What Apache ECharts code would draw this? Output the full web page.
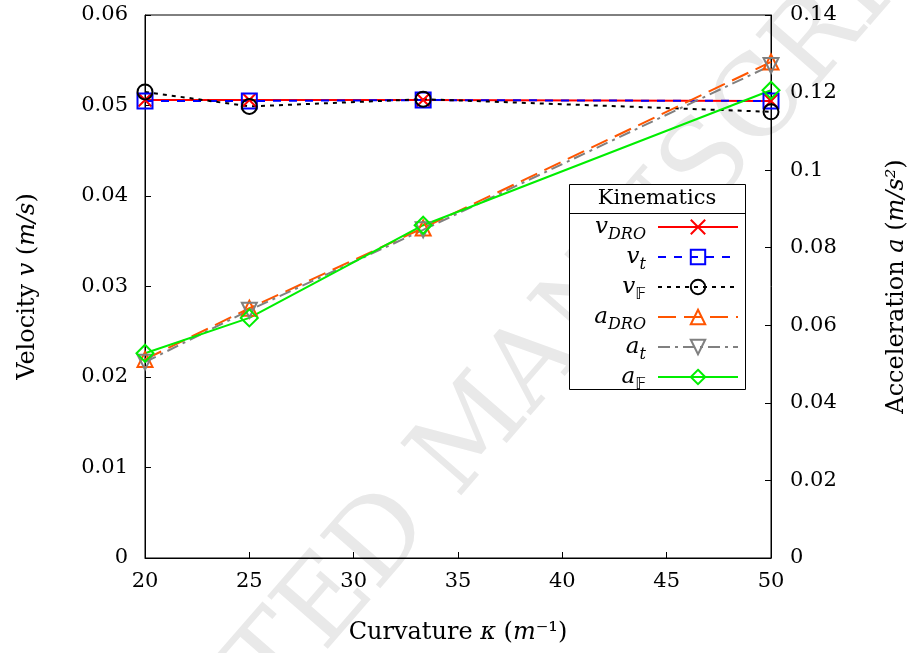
<!DOCTYPE html>
<html>
<head>
<meta charset="utf-8">
<script src="https://cdn.jsdelivr.net/npm/echarts@6/dist/echarts.min.js"></script>
<style>html,body{margin:0;padding:0;background:#fff}#c{width:912px;height:653px}</style>
</head>
<body>
<div id="c"></div>
<script>
const kappa = [20, 25, 33.33, 50];
const vDRO = [0.0506, 0.0506, 0.0506, 0.0505];
const vT   = [0.0505, 0.0505, 0.0506, 0.0505];
const vF   = [0.0515, 0.0499, 0.0507, 0.0493];
const aDRO = [0.0512, 0.0644, 0.0851, 0.1279];
const aT   = [0.0505, 0.0639, 0.0846, 0.1270];
const aF   = [0.0528, 0.0619, 0.0858, 0.1206];
const xTicks = [20, 25, 30, 35, 40, 45, 50];
const seriesNames = ['vDRO', 'vt', 'vF', 'aDRO', 'at', 'aF'];
const legendMain = ['v', 'v', 'v', 'a', 'a', 'a'];
const legendSub = ['DRO', 't', '𝔽', 'DRO', 't', '𝔽'];

const FONT = 'DejaVu Serif';
const pts = arr => kappa.map((k, i) => [k, arr[i]]);

// measure label widths so that labels can be right-aligned against the icons
const LABEL_W = 70;
const MAIN_FONT = 'italic 23px "DejaVu Serif"';
const SUB_FONT = 'italic 16px "DejaVu Serif"';
const SUBR_FONT = '16px "DejaVu Sans"';
const ctx = document.createElement('canvas').getContext('2d');
function tw(font, s) { ctx.font = font; return ctx.measureText(s).width; }

const legendRich = {
  i: {fontFamily: FONT, fontStyle: 'italic', fontSize: 23, color: '#000', lineHeight: 22, verticalAlign: 'top'},
  sub: {fontFamily: FONT, fontStyle: 'italic', fontSize: 16, color: '#000', lineHeight: 16, padding: [11, 0, 0, 0], verticalAlign: 'top'},
  subr: {fontFamily: 'DejaVu Sans', fontSize: 16, color: '#000', lineHeight: 16, padding: [11, 0, 0, 0], verticalAlign: 'top'},
  g: {width: 7, lineHeight: 22, verticalAlign: 'top'}
};
const legendLabels = {};
seriesNames.forEach((n, k) => {
  const isR = legendSub[k] === '𝔽';
  const w = tw(MAIN_FONT, legendMain[k]) + tw(isR ? SUBR_FONT : SUB_FONT, legendSub[k]);
  legendRich['sp' + k] = {width: Math.max(0, LABEL_W - w), lineHeight: 22, verticalAlign: 'top'};
  legendLabels[n] = '{sp' + k + '|}{i|' + legendMain[k] + '}{' + (isR ? 'subr' : 'sub') + '|' + legendSub[k] + '}{g|}';
});

const chart = echarts.init(document.getElementById('c'));
const lbl = {fontFamily: FONT, fontSize: 21, color: '#000'};
const nameStyle = {fontFamily: FONT, fontSize: 24, color: '#000',
  rich: {i: {fontFamily: FONT, fontStyle: 'italic', fontSize: 24, color: '#000'}}};

function mk(name, data, yIdx, color, lineType, symbol, size) {
  return {
    name, type: 'line', yAxisIndex: yIdx, data: pts(data),
    symbol, symbolSize: size, clip: false,
    showAllSymbol: true,
    lineStyle: {color, width: 2, type: lineType},
    itemStyle: {color: 'none', borderColor: color, borderWidth: 2},
    emphasis: {disabled: true},
    animation: false
  };
}

chart.setOption({
  animation: false,
  grid: {left: 145, right: 141, top: 15, bottom: 95, show: true, borderColor: '#000', borderWidth: 1,
         containLabel: false, outerBoundsMode: 'none'},
  xAxis: {
    type: 'value', min: 20, max: 50, interval: 5,
    axisLine: {lineStyle: {color: '#000'}},
    axisTick: {inside: true, length: 6, lineStyle: {color: '#000'}},
    axisLabel: Object.assign({margin: 13, formatter: v => xTicks.includes(v) ? String(v) : ''}, lbl),
    splitLine: {show: false},
    name: 'Curvature {i|κ} ({i|m}⁻¹)', nameLocation: 'middle', nameGap: 63,
    nameTextStyle: nameStyle
  },
  yAxis: [{
    type: 'value', min: 0, max: 0.06, interval: 0.01, position: 'left',
    axisLine: {show: true, lineStyle: {color: '#000'}},
    axisTick: {inside: true, length: 6, lineStyle: {color: '#000'}},
    axisLabel: Object.assign({margin: 17, formatter: v => v === 0 ? '0' : v.toFixed(2)}, lbl),
    splitLine: {show: false},
    name: 'Velocity {i|v} ({i|m/s})', nameLocation: 'middle', nameGap: 105, nameRotate: 90,
    nameTextStyle: nameStyle
  }, {
    type: 'value', min: 0, max: 0.14, interval: 0.02, position: 'right',
    axisLine: {show: true, lineStyle: {color: '#000'}},
    axisTick: {inside: true, length: 6, lineStyle: {color: '#000'}},
    axisLabel: Object.assign({margin: 19, formatter: v => String(+v.toFixed(2))}, lbl),
    splitLine: {show: false},
    name: 'Acceleration {i|a} ({i|m/s²})', nameLocation: 'middle', nameGap: 114, nameRotate: 90,
    nameTextStyle: nameStyle
  }],
  legend: {
    data: seriesNames,
    z: 20,
    orient: 'vertical', align: 'right',
    left: 576, top: 216,
    itemWidth: 80, itemHeight: 18, itemGap: 3,
    padding: 0,
    formatter: n => legendLabels[n],
    textStyle: {rich: legendRich},
    selectedMode: false
  },
  graphic: [
    {type: 'text', z: -10, x: 480, y: 430, rotation: 0.855,
     style: {text: 'ACCEPTED MANUSCRIPT', font: '110px "DejaVu Serif"', fill: '#e9e9e9', align: 'center', verticalAlign: 'middle'}},
    {type: 'group', z: 3, children: [
      {type: 'rect', z: 3, shape: {x: 569.5, y: 184.5, width: 176, height: 205},
       style: {fill: '#fff', stroke: '#000', lineWidth: 1}},
      {type: 'line', z: 4, shape: {x1: 569.5, y1: 213.5, x2: 745.5, y2: 213.5},
       style: {stroke: '#000', lineWidth: 1}},
      {type: 'text', z: 4, x: 657, y: 199,
       style: {text: 'Kinematics', font: '21px "DejaVu Serif"', fill: '#000', align: 'center', verticalAlign: 'middle'}}
    ]}
  ],
  series: [
    mk('vDRO', vDRO, 0, '#ff0000', 'solid', 'path://M0,0L10,10M10,0L0,10', 13),
    mk('vt', vT, 0, '#0000ff', [8, 8], 'rect', 15),
    mk('vF', vF, 0, '#000000', [4, 5], 'circle', 15),
    mk('aDRO', aDRO, 1, '#ff5500', [18, 8], 'triangle', 15),
    mk('at', aT, 1, '#808080', [12, 5, 3, 5], 'path://M0,0L10,0L5,9Z', 15),
    mk('aF', aF, 1, '#00ee00', 'solid', 'diamond', 17)
  ]
});
</script>
</body>
</html>
